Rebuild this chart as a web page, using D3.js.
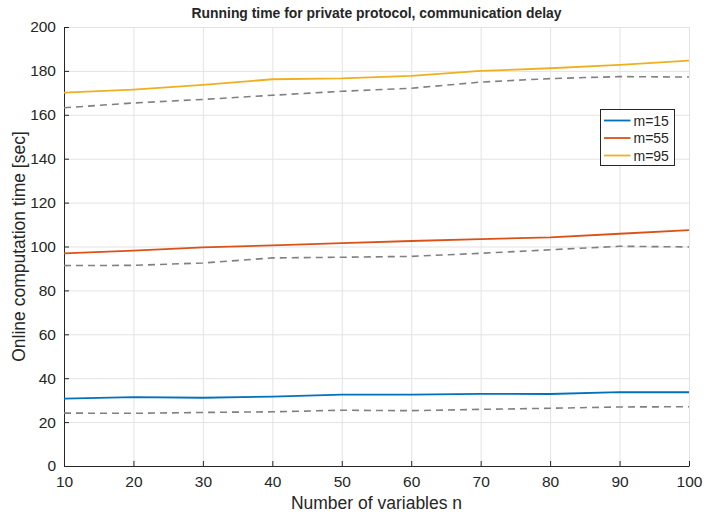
<!DOCTYPE html>
<meta charset="utf-8">
<title>Running time for private protocol</title>
<script src="https://d3js.org/d3.v7.min.js"></script>
<style>
  body { margin: 0; background: #fff; }
  text { font-family: "Liberation Sans", Arial, sans-serif; fill: #262626; }
</style>
<body>
<div id="viz"></div>
<script>
// data
const nVars = [10, 20, 30, 40, 50, 60, 70, 80, 90, 100];
const seriesNames = ["m=15", "m=55", "m=95"];
const seriesColors = ["#0072BD", "#D95319", "#EDB120"];
const m15 = [30.7, 31.4, 31.1, 31.6, 32.5, 32.5, 32.9, 32.8, 33.7, 33.6];
const m55 = [96.9, 98.1, 99.6, 100.5, 101.5, 102.5, 103.4, 104.2, 105.8, 107.5];
const m95 = [170.1, 171.5, 173.6, 176.2, 176.6, 177.7, 180.0, 181.2, 182.7, 184.7];
// dashed reference curves
const ref15 = [24.1, 24.0, 24.4, 24.7, 25.4, 25.2, 25.8, 26.3, 26.9, 27.0];
const ref55 = [91.3, 91.4, 92.5, 94.8, 95.1, 95.5, 96.9, 98.5, 100.1, 99.8];
const ref95 = [163.2, 165.4, 167.0, 168.9, 170.7, 172.1, 174.9, 176.5, 177.4, 177.2];
const xTicks = [10, 20, 30, 40, 50, 60, 70, 80, 90, 100];
const yTicks = [0, 20, 40, 60, 80, 100, 120, 140, 160, 180, 200];

const width = 705, height = 514;
const margin = {top: 27, right: 16, bottom: 48, left: 64};

const svg = d3.select("#viz").append("svg")
  .attr("width", width)
  .attr("height", height);

const x = d3.scaleLinear().domain([10, 100]).range([margin.left, width - margin.right]);
const y = d3.scaleLinear().domain([0, 200]).range([height - margin.bottom, margin.top]);

// grid
const grid = svg.append("g").attr("stroke", "#e3e3e3").attr("stroke-width", 1);
grid.selectAll(".gx").data(xTicks).join("line")
  .attr("x1", d => x(d) + 0.5).attr("x2", d => x(d) + 0.5)
  .attr("y1", y(200)).attr("y2", y(0));
grid.selectAll(".gy").data(yTicks).join("line")
  .attr("x1", x(10)).attr("x2", x(100))
  .attr("y1", d => y(d) + 0.5).attr("y2", d => y(d) + 0.5);

// axes, ticks pointing inward like matlab
const xAxis = svg.append("g")
  .attr("transform", `translate(0,${y(0)})`)
  .call(d3.axisBottom(x).tickValues(xTicks).tickSizeInner(-5).tickSizeOuter(0).tickPadding(10));
const yAxis = svg.append("g")
  .attr("transform", `translate(${x(10)},0)`)
  .call(d3.axisLeft(y).tickValues(yTicks).tickSizeInner(-5).tickSizeOuter(0).tickPadding(8));
[xAxis, yAxis].forEach(g => {
  g.selectAll("path, line").attr("stroke", "#262626");
  g.selectAll("text").style("font-size", "15.5px").style("font-family", "Liberation Sans, Arial, sans-serif").attr("fill", "#262626");
});

const line = d3.line().x((d, i) => x(nVars[i])).y(d => y(d));

// dashed gray references
[ref15, ref55, ref95].forEach(s => {
  svg.append("path").datum(s)
    .attr("d", line)
    .attr("fill", "none")
    .attr("stroke", "#808080")
    .attr("stroke-width", 1.6)
    .attr("stroke-dasharray", "7,5");
});

[m15, m55, m95].forEach((s, k) => {
  svg.append("path").datum(s)
    .attr("d", line)
    .attr("fill", "none")
    .attr("stroke", seriesColors[k])
    .attr("stroke-width", 1.8);
});

// title and labels
svg.append("text")
  .attr("x", (x(10) + x(100)) / 2).attr("y", 18)
  .attr("text-anchor", "middle")
  .attr("textLength", 370).attr("lengthAdjust", "spacingAndGlyphs")
  .style("font-size", "15px").style("font-weight", "bold")
  .attr("fill", "#000")
  .text("Running time for private protocol, communication delay");

svg.append("text")
  .attr("x", (x(10) + x(100)) / 2).attr("y", 509)
  .attr("text-anchor", "middle")
  .style("font-size", "17.5px")
  .text("Number of variables n");

svg.append("text")
  .attr("transform", `translate(25,${(y(0) + y(200)) / 2}) rotate(-90)`)
  .attr("text-anchor", "middle")
  .style("font-size", "17.5px")
  .text("Online computation time [sec]");

// legend
const lg = svg.append("g").attr("transform", "translate(600.5,109.5)");
lg.append("rect").attr("width", 74).attr("height", 56)
  .attr("fill", "#fff").attr("stroke", "#262626").attr("stroke-width", 1);
seriesNames.forEach((name, k) => {
  const yy = 11 + k * 17.5;
  lg.append("line").attr("x1", 3.5).attr("x2", 30).attr("y1", yy).attr("y2", yy)
    .attr("stroke", seriesColors[k]).attr("stroke-width", 1.8);
  lg.append("text").attr("x", 33).attr("y", yy + 5)
    .style("font-size", "14px").attr("fill", "#000").text(name);
});
</script>
</body>
